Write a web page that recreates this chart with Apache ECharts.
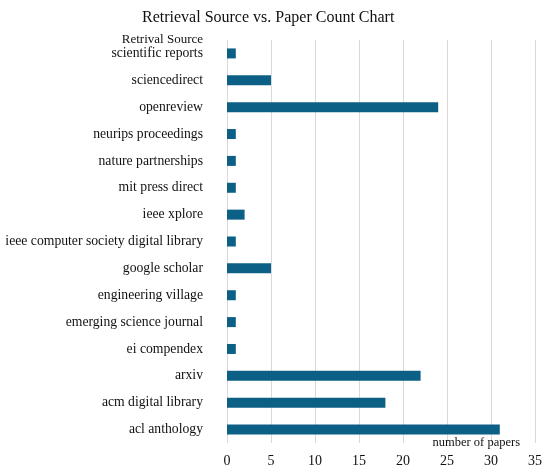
<!DOCTYPE html>
<html>
<head>
    <meta charset="utf-8" />
    <script src="https://cdn.jsdelivr.net/npm/echarts@6/dist/echarts.min.js"></script>
    <style>
        html, body { margin: 0; padding: 0; background: #fff; }
        #main { width: 550px; height: 474px; }
    </style>
</head>
<body>
    <div id="main"></div>
    <script>
    // bottom to top, as in the picture
    var sources = [
        'acl anthology', 'acm digital library', 'arxiv', 'ei compendex',
        'emerging science journal', 'engineering village', 'google scholar',
        'ieee computer society digital library', 'ieee xplore', 'mit press direct',
        'nature partnerships', 'neurips proceedings', 'openreview',
        'sciencedirect', 'scientific reports'
    ];
    var paperCounts = [31, 18, 22, 1, 1, 1, 5, 1, 2, 1, 1, 1, 24, 5, 1];

    var serif = 'Liberation Serif';
    var chart = echarts.init(document.getElementById('main'));
    chart.setOption({
        animation: false,
        title: {
            text: 'Retrieval Source vs. Paper Count Chart',
            left: 137,
            top: 5,
            textStyle: { fontFamily: serif, fontSize: 16, fontWeight: 'normal', color: '#111' }
        },
        grid: { left: 227, right: 15, top: 40, bottom: 31 },
        xAxis: {
            type: 'value',
            min: 0,
            max: 35,
            interval: 5,
            name: 'number of papers',
            nameLocation: 'end',
            nameGap: 0,
            nameTextStyle: {
                fontFamily: serif, fontSize: 12.5, color: '#111',
                align: 'right', verticalAlign: 'middle', padding: [0, 15, 0, 0]
            },
            axisLine: { show: false },
            axisTick: { show: false },
            axisLabel: { fontFamily: serif, fontSize: 14, color: '#111', margin: 11 },
            splitLine: { show: true, lineStyle: { color: '#d9d9d9', width: 1 } }
        },
        yAxis: {
            type: 'category',
            data: sources,
            name: 'Retrival Source',
            nameLocation: 'end',
            nameGap: 0,
            nameTextStyle: {
                fontFamily: serif, fontSize: 13, color: '#111',
                align: 'right', verticalAlign: 'middle', padding: [0, 24, 0, 0]
            },
            axisLine: { show: false },
            axisTick: { show: false },
            axisLabel: { fontFamily: serif, fontSize: 13.7, color: '#111', margin: 24 }
        },
        series: [{
            type: 'bar',
            data: paperCounts,
            barWidth: 10,
            itemStyle: { color: '#0c5f85' }
        }]
    });
    </script>
</body>
</html>
